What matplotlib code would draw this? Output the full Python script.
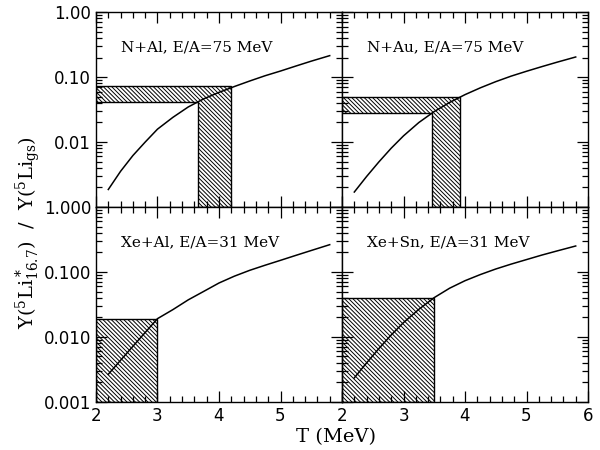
import numpy as np
import matplotlib
matplotlib.use("Agg")
import matplotlib.pyplot as plt
from matplotlib.patches import Polygon
from matplotlib.ticker import FixedLocator, MultipleLocator, LogLocator, NullFormatter

plt.rcParams['font.family'] = ['DejaVu Serif']
plt.rcParams['mathtext.fontset'] = 'dejavuserif'
plt.rcParams['hatch.linewidth'] = 0.7

# temperature grid of the curves (MeV)
T = [2.2, 2.4, 2.6, 2.8, 3.0, 3.25, 3.5, 3.75, 4.0, 4.25, 4.5, 4.75, 5.0, 5.25, 5.5, 5.8]

# yield ratio curves
ratio_nal = [0.00186, 0.00355, 0.0062, 0.0100, 0.0158, 0.0240, 0.0347, 0.0462,
             0.0582, 0.0716, 0.0871, 0.105, 0.124, 0.148, 0.176, 0.214]
ratio_nau = [0.0017, 0.00295, 0.00495, 0.00804, 0.01245, 0.0200, 0.0295, 0.0407,
             0.0537, 0.0684, 0.0851, 0.1035, 0.123, 0.145, 0.170, 0.204]
ratio_xeal = [0.00266, 0.00437, 0.00716, 0.0117, 0.0191, 0.0263, 0.0372, 0.0501,
              0.0676, 0.0861, 0.106, 0.127, 0.151, 0.180, 0.214, 0.263]
ratio_xesn = [0.00234, 0.00398, 0.00661, 0.0107, 0.0166, 0.0266, 0.0403, 0.0562,
              0.0733, 0.0912, 0.111, 0.132, 0.155, 0.182, 0.211, 0.251]

# measured ratio band (lo, hi) and extracted temperature band (lo, hi)
band_nal = [(0.042, 0.072), (3.66, 4.2)]
band_nau = [(0.028, 0.049), (3.46, 3.92)]
band_xeal = [(0.001, 0.0191), (2.0, 3.0)]
band_xesn = [(0.001, 0.0403), (2.0, 3.5)]

labels = ["N+Al, E/A=75 MeV", "N+Au, E/A=75 MeV",
          "Xe+Al, E/A=31 MeV", "Xe+Sn, E/A=31 MeV"]
curves = [ratio_nal, ratio_nau, ratio_xeal, ratio_xesn]
bands = [band_nal, band_nau, band_xeal, band_xesn]

fig, axes = plt.subplots(2, 2, figsize=(6, 4.5), dpi=100)
fig.subplots_adjust(left=0.16, right=0.98, top=0.973, bottom=0.107,
                    wspace=0, hspace=0)

ymin, ymax = 0.001, 1.0
for i, ax in enumerate(axes.flat):
    row, col = divmod(i, 2)
    ax.set_yscale('log')
    ax.set_xlim(2, 6)
    ax.set_ylim(ymin, ymax)

    (ylo, yhi), (tlo, thi) = bands[i]
    pts = [(2, ylo), (tlo, ylo), (tlo, ymin), (thi, ymin), (thi, yhi), (2, yhi)]
    ax.add_patch(Polygon(pts, closed=True, facecolor='white', edgecolor='black',
                         hatch='\\' * 8, lw=1.0))

    ax.plot(T, curves[i], color='black', lw=1.1)
    ax.text(0.10, 0.82, labels[i], transform=ax.transAxes, fontsize=11,
            va='center', ha='left')

    ax.xaxis.set_major_locator(FixedLocator([2, 3, 4, 5, 6]))
    ax.xaxis.set_minor_locator(MultipleLocator(0.2))
    ax.yaxis.set_major_locator(FixedLocator([0.001, 0.01, 0.1, 1.0]))
    ax.yaxis.set_minor_locator(LogLocator(base=10, subs=np.arange(2, 10)))
    ax.yaxis.set_minor_formatter(NullFormatter())
    ax.tick_params(which='both', direction='in', top=True, right=True,
                   labelsize=12, width=0.9)
    ax.tick_params(which='major', length=8)
    ax.tick_params(which='minor', length=4)
    for s in ax.spines.values():
        s.set_linewidth(1.0)

    if col == 0:
        if row == 0:
            ax.set_yticklabels(["1.000", "0.01", "0.10", "1.00"])
        else:
            ax.set_yticklabels(["0.001", "0.010", "0.100", ""])
    else:
        ax.set_yticklabels([])
    if row == 1:
        if col == 0:
            ax.set_xticklabels(["2", "3", "4", "5", ""])
        else:
            ax.set_xticklabels(["2", "3", "4", "5", "6"])
    else:
        ax.set_xticklabels([])
    for lab in ax.get_xticklabels() + ax.get_yticklabels():
        lab.set_family('DejaVu Sans')

fig.text(0.047, 0.484, r'Y($^5$Li$^*_{16.7}$)  /  Y($^5$Li$_\mathrm{gs}$)',
         rotation=90, ha='center', va='center', fontsize=14)
fig.text(0.56, 0.029, 'T (MeV)', ha='center', va='center', fontsize=14)

fig.savefig('out.png', dpi=100)
